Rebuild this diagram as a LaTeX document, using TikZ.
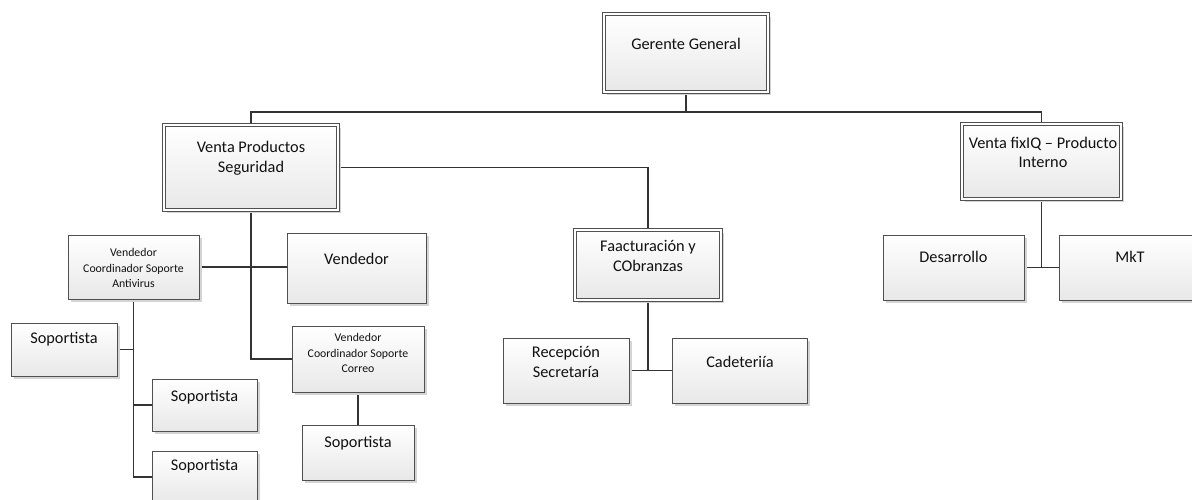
\documentclass[tikz,border=0pt]{standalone}
\usepackage{fontspec}
\setmainfont{Carlito}
\usetikzlibrary{shadows,backgrounds}
\definecolor{bordc}{HTML}{505050}
\definecolor{linec}{HTML}{333333}
\definecolor{txtc}{HTML}{111111}
\definecolor{shadc}{HTML}{D4D4D4}
\tikzset{
  box/.style={draw=bordc, line width=0.9pt, inner sep=0pt, outer sep=0pt,
    top color=white, bottom color=black!9,
    drop shadow={shadow xshift=3pt, shadow yshift=-3pt, fill=shadc, opacity=1}},
  dbox/.style={box, line width=0.8pt, double=white, double distance=2.4pt},
  txt/.style={text=txtc, align=center, inner sep=0pt, font=\fontsize{16.3}{19.5}\selectfont},
  stxt/.style={txt, font=\fontsize{11.8}{15.5}\selectfont},
  conn/.style={draw=linec, line width=1.9pt}
}
\begin{document}
\begin{tikzpicture}[x=1pt,y=-1pt]
\useasboundingbox (0,0) rectangle (1192,499);
% boxes
\node[dbox, minimum width=164pt, minimum height=78pt] (gg) at (686,53) {};
\node[dbox, minimum width=174pt, minimum height=85pt] (vps) at (251,167.5) {};
\node[dbox, minimum width=159pt, minimum height=75pt] (vfx) at (1041.5,161.5) {};
\node[dbox, minimum width=146pt, minimum height=70pt] (fac) at (648,265) {};
\node[box, minimum width=131pt, minimum height=64pt] (av) at (133.5,267) {};
\node[box, minimum width=139pt, minimum height=70pt] (vend) at (356.5,268) {};
\node[box, minimum width=132pt, minimum height=66pt] (corr) at (358,359) {};
\node[box, minimum width=112pt, minimum height=55pt] (s4) at (358,452.5) {};
\node[box, minimum width=106pt, minimum height=53pt] (s1) at (64,349.5) {};
\node[box, minimum width=105pt, minimum height=52pt] (s2) at (204.5,405) {};
\node[box, minimum width=105pt, minimum height=52pt] (s3) at (204.5,477) {};
\node[box, minimum width=126pt, minimum height=65pt] (rec) at (566,370.5) {};
\node[box, minimum width=135pt, minimum height=65pt] (cad) at (739.5,370.5) {};
\node[box, minimum width=141pt, minimum height=65pt] (des) at (953.5,267.5) {};
\node[box, minimum width=142pt, minimum height=65pt] (mkt) at (1130,267.5) {};
% texts
\node[txt] (tgg) at (686,44) {Gerente General};
\node[txt] (tvps) at (251,158) {Venta Productos\\Seguridad};
\node[txt] (tvfx) at (1043,152.5) {Venta fixIQ – Producto\\Interno};
\node[txt] (tfac) at (648,256) {Faacturación y\\CObranzas};
\node[stxt] (tav) at (133.5,268) {Vendedor\\Coordinador Soporte\\Antivirus};
\node[txt] (tvend) at (356.5,259) {Vendedor};
\node[stxt] (tcorr) at (358,353) {Vendedor\\Coordinador Soporte\\Correo};
\node[txt] (ts4) at (358,443) {Soportista};
\node[txt] (ts1) at (64,339) {Soportista};
\node[txt] (ts2) at (204.5,397) {Soportista};
\node[txt] (ts3) at (204.5,466) {Soportista};
\node[txt] (trec) at (566,362) {Recepción\\Secretaría};
\node[txt] (tcad) at (740,362) {Cadeteriía};
\node[txt] (tdes) at (953.5,257) {Desarrollo};
\node[txt] (tmkt) at (1130,257) {MkT};
% connectors
\coordinate (j0) at (686,112);
\begin{scope}[on background layer]
\draw[conn] (gg.south) -- (j0);
\draw[conn] (vps.north) |- (j0) -| (vfx.north);
\draw[conn] (vps.east) -| (fac.north);
\draw[conn] (av.east) -- (av.east -| vend.west);
\draw[conn] (vps.south) |- (corr.west);
\draw[conn] (corr.south) -- (s4.north);
\draw[conn] (av.south) |- (s3.west);
\draw[conn] (s1.east) -- (s1.east -| av.south);
\draw[conn] (s2.west) -- (s2.west -| av.south);
\draw[conn] (fac.south) -- (fac.south |- rec.east);
\draw[conn] (rec.east) -- (cad.west);
\draw[conn] (vfx.south) -- (vfx.south |- des.east);
\draw[conn] (des.east) -- (mkt.west);
\end{scope}
\end{tikzpicture}
\end{document}
